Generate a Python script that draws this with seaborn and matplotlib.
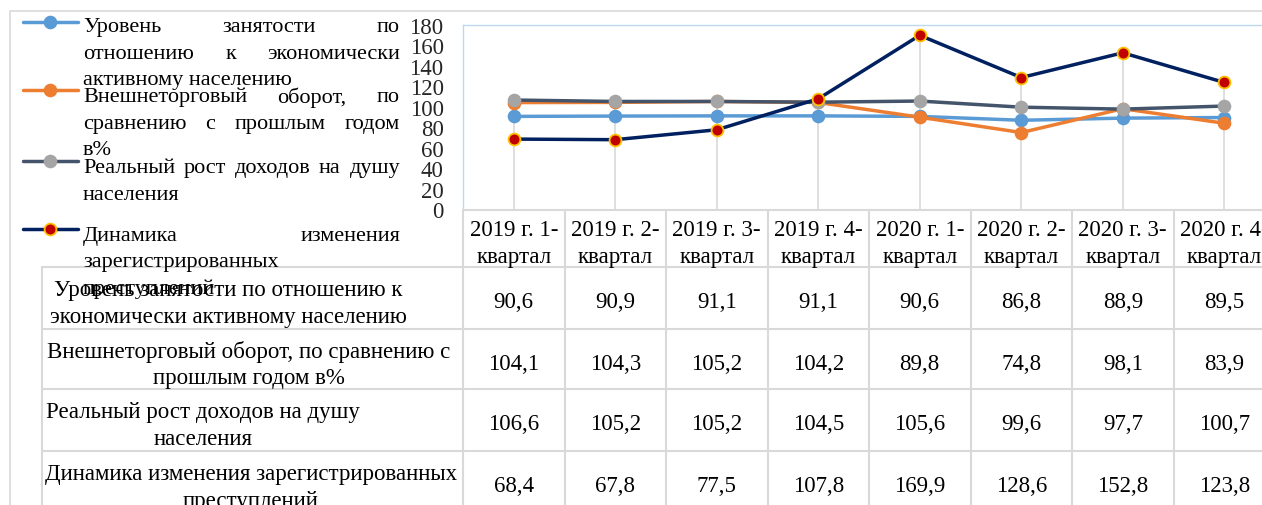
import numpy as np
import matplotlib
matplotlib.use('Agg')
import matplotlib.pyplot as plt
from matplotlib.lines import Line2D
import seaborn as sns

# -------------------------------------------------------
# Data
# -------------------------------------------------------
quarters = ["2019 г. 1-квартал", "2019 г. 2-квартал", "2019 г. 3-квартал",
            "2019 г. 4-квартал", "2020 г. 1-квартал", "2020 г. 2-квартал",
            "2020 г. 3-квартал", "2020 г. 4-квартал"]
employment = [90.6, 90.9, 91.1, 91.1, 90.6, 86.8, 88.9, 89.5]
trade      = [104.1, 104.3, 105.2, 104.2, 89.8, 74.8, 98.1, 83.9]
income     = [106.6, 105.2, 105.2, 104.5, 105.6, 99.6, 97.7, 100.7]
crimes     = [68.4, 67.8, 77.5, 107.8, 169.9, 128.6, 152.8, 123.8]
y_ticks    = list(range(0, 181, 20))

# legend text, wrapped as in the picture: (line, justified)
legend_text = [
    [("Уровень занятости по", True), ("отношению к экономически", True),
     ("активному населению", False)],
    [("Внешнеторговый оборот, по", True), ("сравнению с прошлым годом", True),
     ("в%", False)],
    [("Реальный рост доходов на душу", True), ("населения", False)],
    [("Динамика изменения", True), ("зарегистрированных", False),
     ("преступлений", False)],
]
# table row labels
row_labels = ["Уровень занятости по отношению к\nэкономически активному населению",
              "Внешнеторговый оборот, по сравнению с\nпрошлым годом в%",
              "Реальный рост доходов на душу\nнаселения",
              "Динамика изменения зарегистрированных\nпреступлений"]

series = [employment, trade, income, crimes]
styles = [
    dict(color='#5B9BD5', mfc='#5B9BD5', mec='#5B9BD5'),
    dict(color='#ED7D31', mfc='#ED7D31', mec='#ED7D31'),
    dict(color='#44546A', mfc='#A5A5A5', mec='#A5A5A5'),
    dict(color='#002060', mfc='#C00000', mec='#FFC000'),
]

sns.set_theme(style='white')
plt.rcParams['font.family'] = ['Liberation Serif', 'DejaVu Serif']
FS_TICK = 16.5
FS_TAB = 16.5
FS_LEG = 16
GRID = '#D9D9D9'

W, H = 1262, 506
fig = plt.figure(figsize=(W / 100, H / 100), dpi=100)

# plot area in pixel terms
px_left, px_top, px_bottom = 463, 26, 210
col_w = 101.5
n = len(quarters)
ax = fig.add_axes([px_left / W, 1 - px_bottom / H,
                   n * col_w / W, (px_bottom - px_top) / H])
xpos = np.arange(n)

# drop lines from the highest point of each category
ax.vlines(xpos, 0, np.max(series, axis=0), color=GRID, lw=1.2, zorder=0)

for vals, st in zip(series, styles):
    sns.lineplot(x=xpos, y=vals, ax=ax, color=st['color'], linewidth=2.5,
                 marker='o', markersize=8.5, markerfacecolor=st['mfc'],
                 markeredgecolor=st['mec'], markeredgewidth=1.3, zorder=3)

ax.set_xlim(-0.5, n - 0.5)
ax.set_ylim(0, 180)
ax.set_yticks(y_ticks)
ax.set_yticklabels([str(t) for t in y_ticks], fontsize=FS_TICK)
ax.set_xticks([])
ax.tick_params(axis='y', length=0, pad=14)
for s in ['top', 'left']:
    ax.spines[s].set_color('#BDD7EE')
    ax.spines[s].set_linewidth(1)
ax.spines['right'].set_visible(False)
ax.spines['bottom'].set_visible(False)
ax.set_xlabel(''); ax.set_ylabel('')

# -------------------------------------------------------
# Overlay in pixel coordinates: border, table, legend
# -------------------------------------------------------
ov = fig.add_axes([0, 0, 1, 1])
ov.set_xlim(0, W); ov.set_ylim(H, 0)
ov.axis('off')

# outer chart border
ov.plot([10, 10, W], [H, 12, 12], color=GRID, lw=1.2)

# table grid
hdr_top, hdr_bot = 211, 268
row_edges = [268, 330, 390, 452, 514]
label_left = 42
col_edges = [px_left + k * col_w for k in range(n + 1)]
ov.plot([px_left, W], [hdr_top, hdr_top], color=GRID, lw=1.5)
for y in row_edges[:-1]:
    ov.plot([label_left, W], [y, y], color=GRID, lw=1.5)
ov.plot([label_left, label_left], [hdr_bot, H], color=GRID, lw=1.5)
for x in col_edges:
    ov.plot([x, x], [hdr_top, H], color=GRID, lw=1.5)

# header
for k, q in enumerate(quarters):
    cx = (col_edges[k] + col_edges[k + 1]) / 2
    ov.text(cx, 244, q.replace('-', '-\n'), ha='center', va='center',
            fontsize=FS_TAB, linespacing=1.35, color='black')

# rows
label_cx = [228, 249, 203, 251]
for r, (lab, vals) in enumerate(zip(row_labels, series)):
    cy = (row_edges[r] + row_edges[r + 1]) / 2
    ov.text(label_cx[r], cy + 5, lab, ha='center', va='center',
            fontsize=FS_TAB, linespacing=1.32, multialignment='center',
            color='black')
    for k, v in enumerate(vals):
        cx = (col_edges[k] + col_edges[k + 1]) / 2
        ov.text(cx, cy + 4, f"{v:.1f}".replace('.', ','), ha='center',
                va='center', fontsize=FS_TAB, color='black')

# legend with justified text
renderer = fig.canvas.get_renderer()
txt_l, txt_r = 83, 400
first_line = [25, 95, 166, 234]
handle_y = [23, 91, 162, 230]
line_step = 26.5


def put_line(text, y, justify):
    words = text.split(' ')
    if not justify or len(words) == 1:
        ov.text(txt_l, y, text, ha='left', va='center_baseline',
                fontsize=FS_LEG, color='black')
        return
    objs = [ov.text(0, y, w, ha='left', va='center_baseline', fontsize=FS_LEG,
                    color='black') for w in words]
    widths = [o.get_window_extent(renderer).width for o in objs]
    gap = (txt_r - txt_l - sum(widths)) / (len(words) - 1)
    x = txt_l
    for o, w in zip(objs, widths):
        o.set_x(x)
        x += w + gap


for i, (lines, st) in enumerate(zip(legend_text, styles)):
    ov.add_line(Line2D([23, 78], [handle_y[i]] * 2, color=st['color'], lw=2.5))
    ov.plot([50], [handle_y[i]], marker='o', markersize=8.5,
            markerfacecolor=st['mfc'], markeredgecolor=st['mec'],
            markeredgewidth=1.3)
    for j, (t, just) in enumerate(lines):
        put_line(t, first_line[i] + j * line_step, just)

fig.savefig('out.png', dpi=100)
